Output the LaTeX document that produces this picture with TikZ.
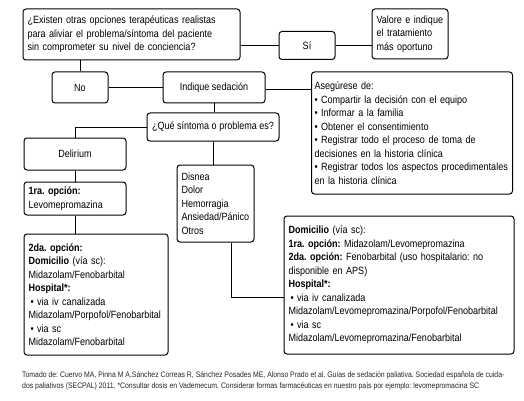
\documentclass[tikz,border=0pt]{standalone}
\usepackage{fontspec}
\setmainfont{Liberation Sans}[FakeStretch=0.86]
\begin{document}
\frenchspacing
\begin{tikzpicture}[x=1pt,y=-1pt,
  box/.style={draw, line width=1pt, rounded corners=3pt, inner xsep=4.5pt, inner ysep=0pt,
    font=\fontsize{10.5}{13.5}\selectfont},
  tbox/.style n args={2}{box, minimum width=#1pt, minimum height=#2pt, text width=#1pt-9pt, align=left},
  widebox/.style n args={2}{box, inner xsep=3pt, minimum width=#1pt, minimum height=#2pt, text width=#1pt-6pt, align=left},
  cbox/.style n args={2}{box, minimum width=#1pt, minimum height=#2pt, align=center},
  conn/.style={line width=1pt},
  fn/.style={anchor=base west, inner sep=0, font=\fontsize{8}{9}\selectfont, text=black!85}]
\useasboundingbox[fill=white] (0,0) rectangle (524,401);

\node[tbox={217}{51}] (q) at (131.5,34.5) {¿Existen otras opciones terapéuticas realistas\\para aliviar el problema/síntoma del paciente\\sin comprometer su nivel de conciencia?};
\node[cbox={56}{28}] (si) at (307,45.5) {Sí};
\node[tbox={76}{50}] (val) at (410,34) {Valore e indique\\el tratamiento\\más oportuno};
\node[cbox={56}{31}] (no) at (80,87.5) {No};
\node[cbox={102}{31}] (ind) at (214,87.5) {Indique sedación};
\node[widebox={201}{122}] (ase) at (412,133) {Asegúrese de:\\• Compartir la decisión con el equipo\\• Informar a la familia\\• Obtener el consentimiento\\• Registrar todo el proceso de toma de\\decisiones en la historia clínica\\• Registrar todos los aspectos procedimentales\\en la historia clínica};
\node[cbox={132}{28}] (que) at (213,127) {¿Qué síntoma o problema es?};
\node[cbox={102}{32}] (del) at (75,154) {Delirium};
\node[tbox={102}{33}] (op1) at (75,198.5) {\textbf{1ra. opción:}\\Levomepromazina};
\node[tbox={144}{121}] (op2) at (96,294.5) {\textbf{2da. opción:}\\\textbf{Domicilio} (vía sc):\\Midazolam/Fenobarbital\\\textbf{Hospital*:}\\\hspace*{2pt}• via iv canalizada\\Midazolam/Porpofol/Fenobarbital\\\hspace*{2pt}• via sc\\Midazolam/Fenobarbital};
\node[tbox={77}{77}] (dis) at (215.5,203.5) {Disnea\\Dolor\\Hemorragia\\Ansiedad/Pánico\\Otros};
\node[tbox={230}{138}] (dom) at (399,285) {\textbf{Domicilio} (vía sc):\\\textbf{1ra. opción:} Midazolam/Levomepromazina\\\textbf{2da. opción:} Fenobarbital (uso hospitalario: no\\disponible en APS)\\\textbf{Hospital*:}\\\hspace*{2pt}• via iv canalizada\\Midazolam/Levomepromazina/Porpofol/Fenobarbital\\\hspace*{2pt}• via sc\\Midazolam/Levomepromazina/Fenobarbital};

\draw[conn] (q.east |- si.west) -- (si.west);
\draw[conn] (si.east) -- (si.east -| val.west);
\draw[conn] (no.north) -- (no.north |- q.south);
\draw[conn] (no.east) -- (ind.west);
\draw[conn] ([yshift=-2pt]ind.east) -- ([yshift=-2pt]ind.east -| ase.west);
\draw[conn] (ind.south) -- (ind.south |- que.north);
\draw[conn] (que.west) -| (del.north);
\draw[conn] (del.south) -- (op1.north);
\draw[conn] (op1.south) -- (op1.south |- op2.north);
\draw[conn] (que.south) -- (que.south |- dis.north);
\coordinate (dj) at ([xshift=16pt]dis.south);
\draw[conn] (dj) |- ([yshift=-12pt]dom.west);

\node[fn] (fn1) at (22,377) {Tomado de: Cuervo MA, Pinna M A,Sánchez Correas R, Sánchez Posades ME, Alonso Prado et al. Guías de sedación paliativa. Sociedad española de cuida-};
\node[fn] (fn2) at (22,388) {dos paliativos (SECPAL) 2011. *Consultar dosis en Vademecum. Considerar formas farmacéuticas en nuestro país por ejemplo: levomepromacina SC};
\end{tikzpicture}
\end{document}
